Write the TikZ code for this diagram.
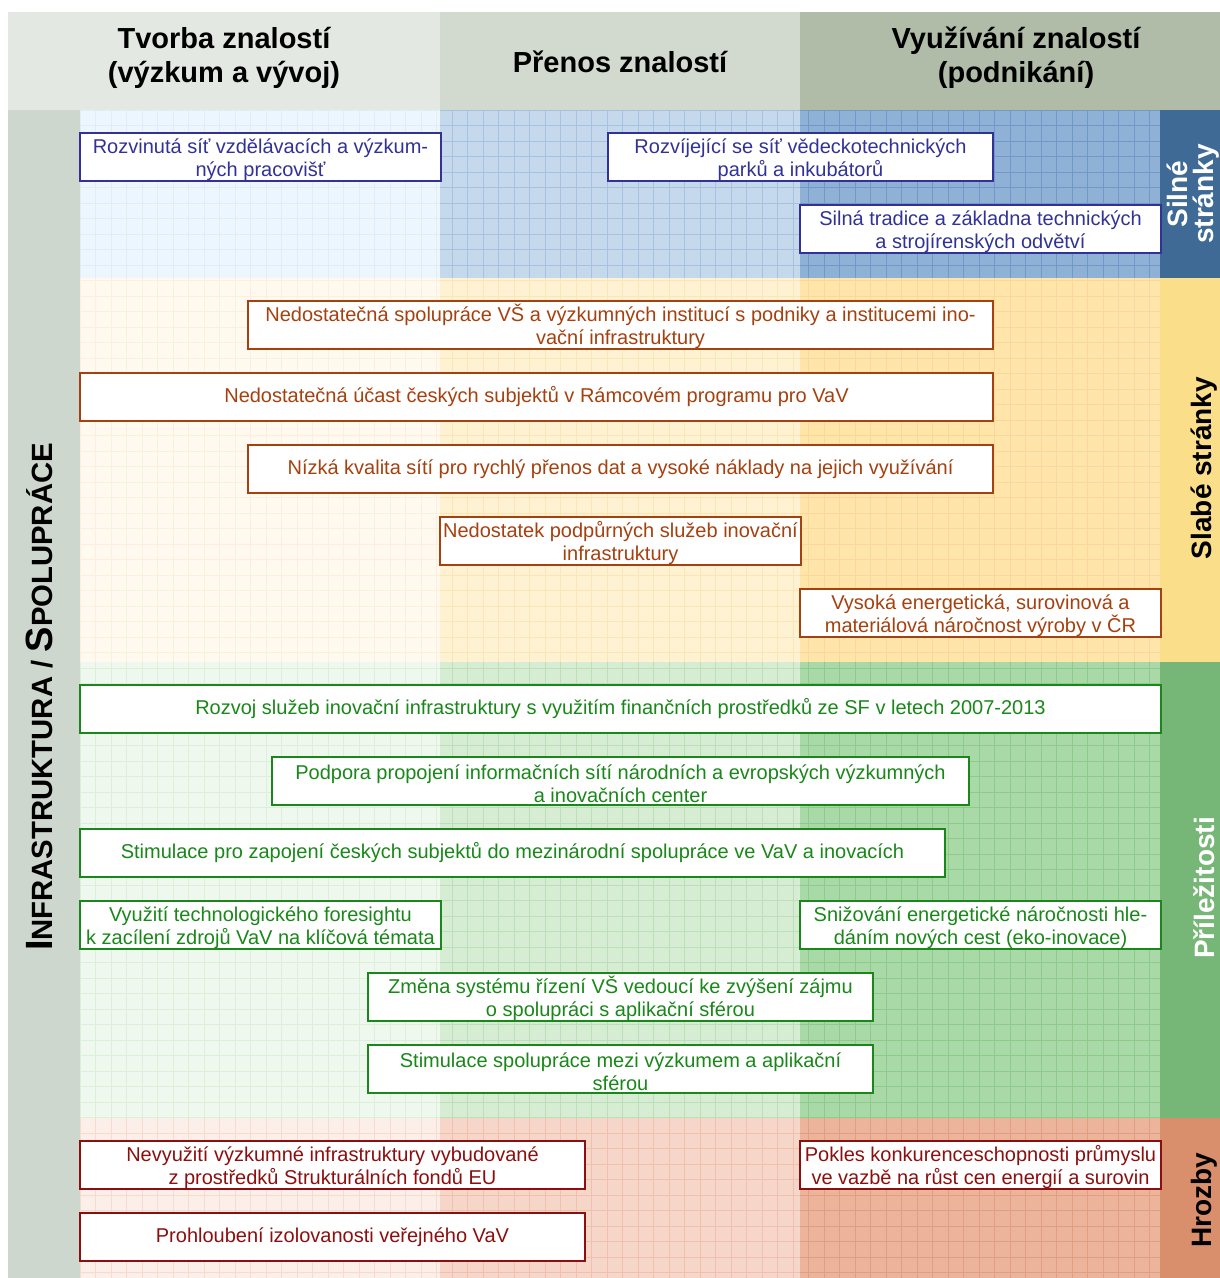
\documentclass[tikz,border=0pt]{standalone}
\usepackage{fontspec}
\setmainfont{Liberation Sans}
\definecolor{hA}{HTML}{E3E8E2}
\definecolor{hB}{HTML}{D2DAD0}
\definecolor{hC}{HTML}{B0BCA7}
\definecolor{lcol}{HTML}{CED7CD}
\definecolor{sA}{HTML}{EEF6FD}\definecolor{sAg}{HTML}{DFEDF8}
\definecolor{sB}{HTML}{C6D9EC}\definecolor{sBg}{HTML}{A6C2E1}
\definecolor{sC}{HTML}{8FB1D6}\definecolor{sCg}{HTML}{7099CA}
\definecolor{sL}{HTML}{3F6A95}
\definecolor{wA}{HTML}{FFF9EF}\definecolor{wAg}{HTML}{FCEFDB}
\definecolor{wB}{HTML}{FFF2D2}\definecolor{wBg}{HTML}{FBE6B8}
\definecolor{wC}{HTML}{FFE5AA}\definecolor{wCg}{HTML}{F9D899}
\definecolor{wL}{HTML}{FBDE8A}
\definecolor{oA}{HTML}{EFF8EE}\definecolor{oAg}{HTML}{DBEFD9}
\definecolor{oB}{HTML}{D6EDD4}\definecolor{oBg}{HTML}{BBE0B8}
\definecolor{oC}{HTML}{A8D9A7}\definecolor{oCg}{HTML}{8DCB8D}
\definecolor{oL}{HTML}{76B676}
\definecolor{tA}{HTML}{FCEFE9}\definecolor{tAg}{HTML}{F6DCCF}
\definecolor{tB}{HTML}{F6D6C8}\definecolor{tBg}{HTML}{EFC1AC}
\definecolor{tC}{HTML}{ECB49B}\definecolor{tCg}{HTML}{E29E80}
\definecolor{tL}{HTML}{D98F6B}
\definecolor{sbord}{RGB}{50,50,150}
\definecolor{wbord}{RGB}{165,65,15}
\definecolor{obord}{RGB}{25,135,25}
\definecolor{tbord}{RGB}{140,15,15}
\newcommand\mycell[6]{%
  \fill[#5] (#1,#2) rectangle (#3,#4);
  \begin{scope}
    \clip (#1,#2) rectangle (#3,#4);
    \foreach \gx in {80,95.5,...,1170} \draw[#6,line width=0.6] (\gx,#2) -- (\gx,#4);
    \foreach \gy in {110,125.5,...,1290} \draw[#6,line width=0.6] (#1,\gy) -- (#3,\gy);
  \end{scope}}
\newcommand\ts{\rule{0pt}{21pt}}
\begin{document}
\begin{tikzpicture}[x=1pt,y=-1pt,
  bx/.style={draw, fill=white, line width=2, inner sep=0, align=center,
    font=\fontsize{20}{23}\selectfont, minimum height=48},
  sbox/.style={bx, draw=sbord, text=sbord},
  wbox/.style={bx, draw=wbord, text=wbord},
  obox/.style={bx, draw=obord, text=obord},
  tbox/.style={bx, draw=tbord, text=tbord},
  head/.style={align=center, font=\fontsize{29}{34}\selectfont\bfseries},
  side/.style={rotate=90, align=center, font=\fontsize{28}{26}\selectfont\bfseries}]
\useasboundingbox (0,0) rectangle (1220,1278);
\fill[white] (0,0) rectangle (1220,1278);
% header
\fill[hA] (8,12) rectangle (440,110);
\fill[hB] (440,12) rectangle (800,110);
\fill[hC] (800,12) rectangle (1220,110);
\fill[lcol] (8,110) rectangle (80,1278);
% cells
\mycell{80}{110}{440}{278}{sA}{sAg}
\mycell{440}{110}{800}{278}{sB}{sBg}
\mycell{800}{110}{1160}{278}{sC}{sCg}
\mycell{80}{278}{440}{662}{wA}{wAg}
\mycell{440}{278}{800}{662}{wB}{wBg}
\mycell{800}{278}{1160}{662}{wC}{wCg}
\mycell{80}{662}{440}{1118}{oA}{oAg}
\mycell{440}{662}{800}{1118}{oB}{oBg}
\mycell{800}{662}{1160}{1118}{oC}{oCg}
\mycell{80}{1118}{440}{1278}{tA}{tAg}
\mycell{440}{1118}{800}{1278}{tB}{tBg}
\mycell{800}{1118}{1160}{1278}{tC}{tCg}
\fill[sL] (1160,110) rectangle (1220,278);
\fill[wL] (1160,278) rectangle (1220,662);
\fill[oL] (1160,662) rectangle (1220,1118);
\fill[tL] (1160,1118) rectangle (1220,1278);
% headers text
\node[head] (h1) at (224,58) {Tvorba znalostí\\(výzkum a vývoj)};
\node[head] (h2) at (620,62) {Přenos znalostí};
\node[head] (h3) at (1016,58) {Využívání znalostí\\(podnikání)};
% side labels
\node[side, text=white] (ls) at (1193,194) {Silné\\stránky};
\node[side] (lw) at (1204,468) {Slabé stránky};
\node[side, text=white] (lo) at (1204,888) {Příležitosti};
\node[side] (lt) at (1204,1200) {Hrozby};
\node[rotate=90, font=\bfseries] (lm) at (40,697)
  {\fontsize{38}{38}\selectfont I\fontsize{29.3}{38}\selectfont NFRASTRUKTURA / \fontsize{38}{38}\selectfont S\fontsize{29.3}{38}\selectfont POLUPRÁCE};
% strengths
\node[sbox, minimum width=361] (s1) at (260.5,157) {\ts Rozvinutá síť vzdělávacích a výzkum-\\ných pracovišť};
\node[sbox, minimum width=385] (s2) at (800.5,157) {\ts Rozvíjející se síť vědeckotechnických\\parků a inkubátorů};
\node[sbox, minimum width=361] (s3) at (980.5,229) {\ts Silná tradice a základna technických\\a strojírenských odvětví};
% weaknesses
\node[wbox, minimum width=745] (w1) at (620.5,325) {\ts Nedostatečná spolupráce VŠ a výzkumných institucí s podniky a institucemi ino-\\vační infrastruktury};
\node[wbox, minimum width=913] (w2) at (536.5,397) {\raisebox{3pt}{Nedostatečná účast českých subjektů v Rámcovém programu pro VaV}};
\node[wbox, minimum width=745] (w3) at (620.5,469) {\raisebox{3pt}{Nízká kvalita sítí pro rychlý přenos dat a vysoké náklady na jejich využívání}};
\node[wbox, minimum width=361] (w4) at (620.5,541) {\ts Nedostatek podpůrných služeb inovační\\infrastruktury};
\node[wbox, minimum width=361] (w5) at (980.5,613) {\ts Vysoká energetická, surovinová a\\materiálová náročnost výroby v ČR};
% opportunities
\node[obox, minimum width=1081] (o1) at (620.5,709) {\raisebox{3pt}{Rozvoj služeb inovační infrastruktury s využitím finančních prostředků ze SF v letech 2007-2013}};
\node[obox, minimum width=697] (o2) at (620.5,781) {\ts Podpora propojení informačních sítí národních a evropských výzkumných\\a inovačních center};
\node[obox, minimum width=865] (o3) at (512.5,853) {\raisebox{3pt}{Stimulace pro zapojení českých subjektů do mezinárodní spolupráce ve VaV a inovacích}};
\node[obox, minimum width=361] (o4) at (260.5,925) {\ts Využití technologického foresightu\\k zacílení zdrojů VaV na klíčová témata};
\node[obox, minimum width=361] (o5) at (980.5,925) {\ts Snižování energetické náročnosti hle-\\dáním nových cest (eko-inovace)};
\node[obox, minimum width=505] (o6) at (620.5,997) {\ts Změna systému řízení VŠ vedoucí ke zvýšení zájmu\\o spolupráci s aplikační sférou};
\node[obox, minimum width=505] (o7) at (620.5,1069) {\ts Stimulace spolupráce mezi výzkumem a aplikační\\sférou};
% threats
\node[tbox, minimum width=505] (t1) at (332.5,1165) {\ts Nevyužití výzkumné infrastruktury vybudované\\z prostředků Strukturálních fondů EU};
\node[tbox, minimum width=505] (t2) at (332.5,1237) {\raisebox{3pt}{Prohloubení izolovanosti veřejného VaV}};
\node[tbox, minimum width=361] (t3) at (980.5,1165) {\ts Pokles konkurenceschopnosti průmyslu\\ve vazbě na růst cen energií a surovin};
\end{tikzpicture}
\end{document}
